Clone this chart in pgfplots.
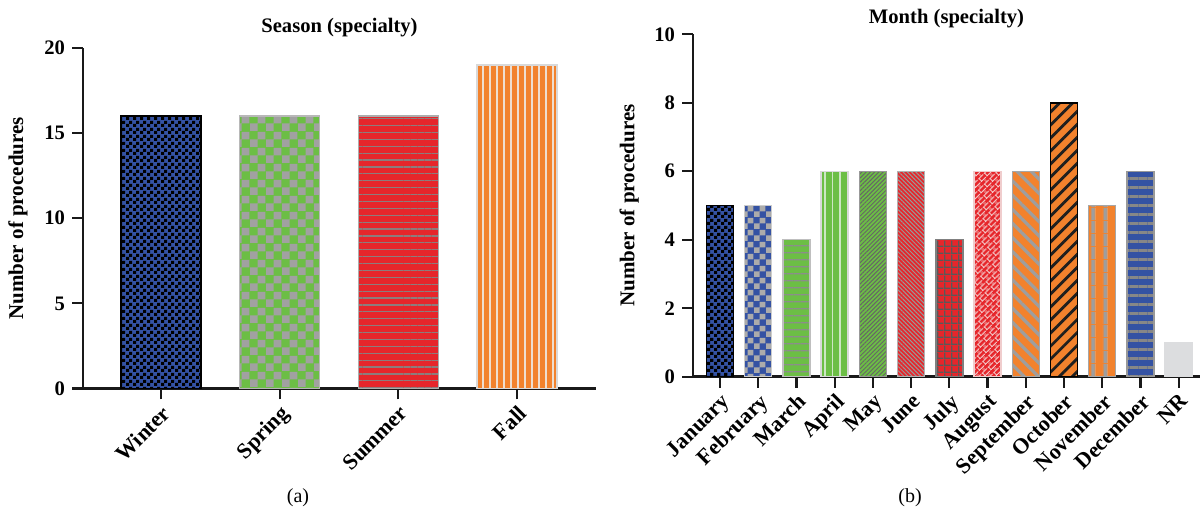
\documentclass[border=0pt]{standalone}
\usepackage{fontspec}
\setmainfont{Liberation Serif}
\usepackage{pgfplots}
\pgfplotsset{compat=1.18}
\usetikzlibrary{patterns,patterns.meta}

\definecolor{cBlue}{RGB}{52,82,163}
\definecolor{cGreen}{RGB}{108,190,69}
\definecolor{cRed}{RGB}{230,38,43}
\definecolor{cOrange}{RGB}{242,130,45}
\definecolor{cNR}{RGB}{220,221,223}

\pgfdeclarepattern{name=ckS, type=uncolored,
  bottom left={\pgfpointorigin}, top right={\pgfpoint{3.5pt}{3.5pt}},
  tile size={\pgfpoint{3.5pt}{3.5pt}},
  code={\pgfpathrectangle{\pgfpointorigin}{\pgfpoint{1.75pt}{1.75pt}}
        \pgfpathrectangle{\pgfpoint{1.75pt}{1.75pt}}{\pgfpoint{1.75pt}{1.75pt}}
        \pgfusepath{fill}}}
\pgfdeclarepattern{name=ckM, type=uncolored,
  bottom left={\pgfpointorigin}, top right={\pgfpoint{5.8pt}{5.8pt}},
  tile size={\pgfpoint{5.8pt}{5.8pt}},
  code={\pgfpathrectangle{\pgfpointorigin}{\pgfpoint{2.9pt}{2.9pt}}
        \pgfpathrectangle{\pgfpoint{2.9pt}{2.9pt}}{\pgfpoint{2.9pt}{2.9pt}}
        \pgfusepath{fill}}}
\pgfdeclarepattern{name=ckL, type=uncolored,
  bottom left={\pgfpointorigin}, top right={\pgfpoint{7.8pt}{7.8pt}},
  tile size={\pgfpoint{7.8pt}{7.8pt}},
  code={\pgfpathrectangle{\pgfpointorigin}{\pgfpoint{3.9pt}{3.9pt}}
        \pgfpathrectangle{\pgfpoint{3.9pt}{3.9pt}}{\pgfpoint{3.9pt}{3.9pt}}
        \pgfusepath{fill}}}
\pgfdeclarepattern{name=gridP, type=uncolored,
  bottom left={\pgfpointorigin}, top right={\pgfpoint{3.3pt}{3.3pt}},
  tile size={\pgfpoint{3.3pt}{3.3pt}},
  code={\pgfpathrectangle{\pgfpointorigin}{\pgfpoint{3.3pt}{0.7pt}}
        \pgfpathrectangle{\pgfpointorigin}{\pgfpoint{0.7pt}{3.3pt}}
        \pgfusepath{fill}}}
\pgfdeclarepattern{name=bricksD, type=uncolored,
  bottom left={\pgfpointorigin}, top right={\pgfpoint{4pt}{4pt}},
  tile size={\pgfpoint{4pt}{4pt}},
  tile transformation={\pgftransformrotate{45}},
  code={\pgfpathrectangle{\pgfpointorigin}{\pgfpoint{4pt}{0.5pt}}
        \pgfpathrectangle{\pgfpoint{0pt}{2pt}}{\pgfpoint{4pt}{0.5pt}}
        \pgfpathrectangle{\pgfpointorigin}{\pgfpoint{0.5pt}{2pt}}
        \pgfpathrectangle{\pgfpoint{2pt}{2pt}}{\pgfpoint{0.5pt}{2pt}}
        \pgfusepath{fill}}}

\newcommand{\mybar}[3]{\addplot[#3] coordinates {(#1,#2)};}

\pgfplotsset{
  panel/.style={
    scale only axis,
    axis lines=left,
    axis line style={-, line width=1.3pt, black!90},
    ybar, bar shift=0pt,
    every axis plot/.append style={bar shift=0pt, line width=0.75pt},
    tick align=outside,
    major tick length=5.5pt,
    tick style={line width=1.1pt, black!90},
    minor tick num=0,
    ymin=0,
    xtick={0,1,...,12},
    /pgf/number format/assume math mode=true,
    tick label style={font=\fontsize{10.3}{12}\selectfont\bfseries},
    label style={font=\fontsize{10.5}{12}\selectfont\bfseries},
    title style={font=\fontsize{10.3}{12}\selectfont\bfseries, at={(0.5,1)}, anchor=center},
    x tick label style={font=\fontsize{11}{12}\selectfont\bfseries, rotate=45, anchor=north east, inner sep=1.5pt},
    ylabel={Number of procedures},
  }
}

\begin{document}
\begin{tikzpicture}
\useasboundingbox (0,0) rectangle (601pt,256pt);

% ---------- (a) Season ----------
\begin{axis}[panel,
  at={(41.5pt,61.75pt)}, anchor=south west,
  width=256.5pt, height=170.25pt,
  xmin=-0.657, xmax=3.666,
  ymax=20, ytick={0,5,10,15,20},
  bar width=40pt,
  xtick={0,1,2,3},
  xticklabels={Winter,Spring,Summer,Fall},
  title={Season (specialty)}, title style={yshift=4pt},
  ylabel style={at={(axis description cs:-0.127,0.5)}, anchor=center},
]
\mybar{0}{16}{draw=black, preaction={fill=cBlue}, pattern=ckS, pattern color=black}
\mybar{1}{16}{draw=black!28, preaction={fill=cGreen}, pattern=ckL, pattern color=black!37}
\mybar{2}{16}{draw=black!32, preaction={fill=cRed}, pattern={Lines[angle=0,distance=3.45pt,line width=0.6pt]}, pattern color={rgb,255:red,140;green,125;blue,125}}
\mybar{3}{19}{draw=black!15, preaction={fill=cOrange}, pattern={Lines[angle=90,distance=3.5pt,line width=0.7pt]}, pattern color={rgb,255:red,238;green,222;blue,208}}
\end{axis}

% ---------- (b) Month ----------
\begin{axis}[panel,
  at={(346.5pt,67.65pt)}, anchor=south west,
  width=253.5pt, height=171.2pt,
  xmin=-0.707, xmax=12.56,
  ymax=10, ytick={0,2,4,6,8,10},
  bar width=13.5pt,
  xtick={0,1,...,12},
  xticklabels={January,February,March,April,May,June,July,August,September,October,November,December,NR},
  title={Month (specialty)}, title style={yshift=2pt},
  ylabel style={at={(axis description cs:-0.126,0.5)}, anchor=center},
]
\mybar{0}{5}{draw=black, preaction={fill=cBlue}, pattern=ckS, pattern color=black}
\mybar{1}{5}{draw=black!20, preaction={fill=cBlue}, pattern=ckM, pattern color=black!33}
\mybar{2}{4}{draw=black!25, preaction={fill=cGreen}, pattern={Lines[angle=0,distance=3.35pt,line width=0.6pt]}, pattern color=black!45}
\mybar{3}{6}{draw=black!15, preaction={fill=cGreen}, pattern={Lines[angle=90,distance=3.75pt,line width=0.7pt]}, pattern color={rgb,255:red,205;green,230;blue,195}}
\mybar{4}{6}{draw=black!40, preaction={fill=cGreen}, pattern={Lines[angle=45,distance=1.5pt,line width=0.5pt]}, pattern color=black!60}
\mybar{5}{6}{draw=black!30, preaction={fill=cRed}, pattern={Lines[angle=-45,distance=1.5pt,line width=0.5pt]}, pattern color=black!40}
\mybar{6}{4}{draw=black!50, preaction={fill=cRed}, pattern=gridP, pattern color=black!65}
\mybar{7}{6}{draw={rgb,255:red,240;green,205;blue,205}, preaction={fill=cRed}, pattern=bricksD, pattern color={rgb,255:red,245;green,215;blue,215}}
\mybar{8}{6}{draw=black!35, preaction={fill=cOrange}, pattern={Lines[angle=-45,distance=5pt,line width=1.6pt]}, pattern color=black!38}
\mybar{9}{8}{draw=black, preaction={fill=cOrange}, pattern={Lines[angle=45,distance=4.6pt,line width=1.4pt]}, pattern color=black!88}
\mybar{10}{5}{draw=black!35, preaction={fill=cOrange}, pattern={Lines[angle=90,distance=6.5pt,line width=2pt]}, pattern color=black!38}
\mybar{11}{6}{draw=black!40, preaction={fill=cBlue}, pattern={Lines[angle=0,distance=4.5pt,line width=1.5pt]}, pattern color=black!47}
\mybar{12}{1}{draw=cNR, fill=cNR}
\end{axis}

\node[font=\fontsize{10}{12}\selectfont] at (149pt,7pt) {(a)};
\node[font=\fontsize{10}{12}\selectfont] at (455pt,7pt) {(b)};
\end{tikzpicture}
\end{document}
